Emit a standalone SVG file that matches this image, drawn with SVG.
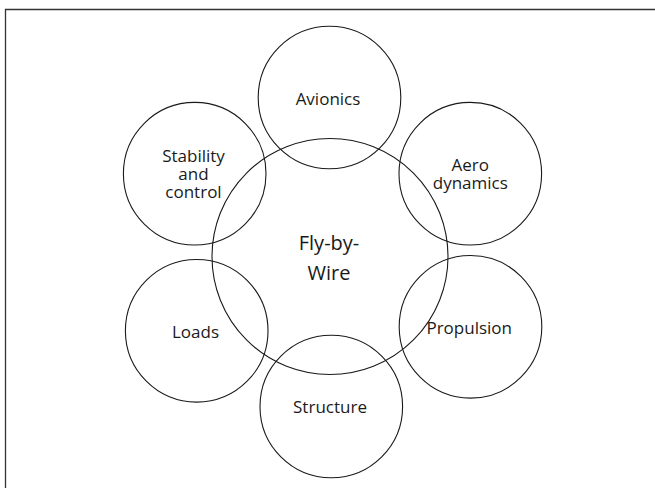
<svg xmlns="http://www.w3.org/2000/svg" width="655" height="488" viewBox="0 0 655 488">
<style>
circle{fill:none;stroke:#1a1a1a;stroke-width:1.1}
text{font-family:"Open Sans","Noto Sans",sans-serif;font-size:17px;fill:#1a1a1a;text-anchor:middle}
.big{font-size:20px}
.frame{fill:none;stroke:#333;stroke-width:1.3}
</style>
<rect width="655" height="488" fill="#fff"/>
<path class="frame" d="M5.5,488 V9.5 H655"/>
<g id="center"><circle cx="330" cy="256.5" r="118"/><text class="big" x="329" y="249.5">Fly-by-</text><text class="big" x="329" y="279.5">Wire</text></g>
<g id="avionics"><circle cx="329.5" cy="97.5" r="71.3"/><text x="328" y="104.5">Avionics</text></g>
<g id="stability"><circle cx="194.7" cy="173.7" r="71.3"/><text x="193.5" y="162.3">Stability</text><text x="193.5" y="180.3">and</text><text x="193.5" y="198.3">control</text></g>
<g id="aero"><circle cx="470.3" cy="173.7" r="71.3"/><text x="470.3" y="170.5">Aero</text><text x="470.3" y="188.5">dynamics</text></g>
<g id="loads"><circle cx="196.7" cy="330.8" r="71.3"/><text x="195.5" y="338">Loads</text></g>
<g id="propulsion"><circle cx="470.5" cy="326.8" r="71.3"/><text x="469.2" y="334">Propulsion</text></g>
<g id="structure"><circle cx="331.3" cy="406.5" r="71.3"/><text x="330" y="413.3">Structure</text></g>
<g id="connectors"></g>
</svg>
